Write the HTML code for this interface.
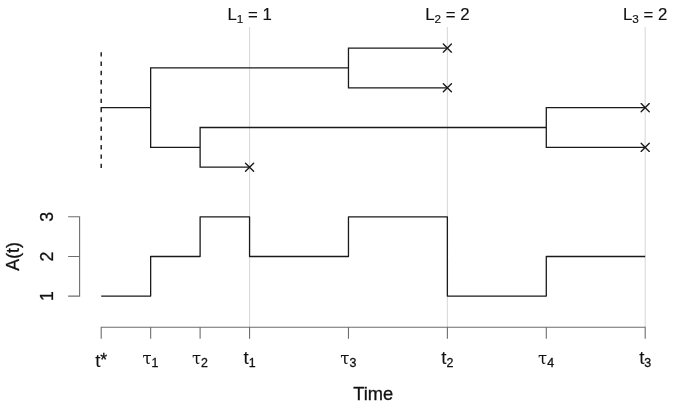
<!DOCTYPE html>
<html><head><meta charset="utf-8"><title>Tree and lineage count</title>
<style>html,body{margin:0;padding:0;background:#fff}svg{display:block}</style></head>
<body>
<svg width="677" height="407" viewBox="0 0 677 407">
<rect width="677" height="407" fill="#fff"/>
<line x1="249.56" y1="27" x2="249.56" y2="327" stroke="#dadada" stroke-width="1.1"/>
<line x1="447.38" y1="27" x2="447.38" y2="327" stroke="#dadada" stroke-width="1.1"/>
<line x1="645.2" y1="27" x2="645.2" y2="327" stroke="#dadada" stroke-width="1.1"/>
<line x1="101.2" y1="52.2" x2="101.2" y2="168.3" stroke="#1a1a1a" stroke-width="1.45" stroke-dasharray="4.4 4.89"/>
<path d="M101.2 107.65L150.65 107.65M150.65 67.95L150.65 147.35M150.65 67.95L348.47 67.95M348.47 48.1L348.47 87.8M348.47 48.1L447.38 48.1M348.47 87.8L447.38 87.8M150.65 147.35L200.11 147.35M200.11 127.5L200.11 167.2M200.11 167.2L249.56 167.2M200.11 127.5L546.29 127.5M546.29 107.65L546.29 147.35M546.29 107.65L645.2 107.65M546.29 147.35L645.2 147.35" fill="none" stroke="#1a1a1a" stroke-width="1.3" stroke-linecap="square"/>
<path d="M443.33 44.05L451.43 52.15M443.33 52.15L451.43 44.05M443.33 83.75L451.43 91.85M443.33 91.85L451.43 83.75M245.51 163.15L253.61 171.25M245.51 171.25L253.61 163.15M641.15 103.60L649.25 111.70M641.15 111.70L649.25 103.60M641.15 143.30L649.25 151.40M641.15 151.40L649.25 143.30" fill="none" stroke="#1a1a1a" stroke-width="1.35" stroke-linecap="round"/>
<polyline points="101.2,296.1 150.65,296.1 150.65,256.5 200.11,256.5 200.11,216.8 249.56,216.8 249.56,256.5 348.47,256.5 348.47,216.8 447.38,216.8 447.38,296.1 546.29,296.1 546.29,256.5 645.2,256.5" fill="none" stroke="#1a1a1a" stroke-width="1.3" stroke-linejoin="round"/>
<path d="M101.2 327.3L645.2 327.3M101.2 327.3L101.2 338.2M150.65 327.3L150.65 338.2M200.11 327.3L200.11 338.2M249.56 327.3L249.56 338.2M348.47 327.3L348.47 338.2M447.38 327.3L447.38 338.2M546.29 327.3L546.29 338.2M645.2 327.3L645.2 338.2M79.6 216.8L79.6 296.1M79.6 296.1L68.7 296.1M79.6 256.5L68.7 256.5M79.6 216.8L68.7 216.8" fill="none" stroke="#6e6e6e" stroke-width="1.1" stroke-linecap="square"/>
<g stroke="#111" stroke-width="0.3" font-family="'Liberation Sans', sans-serif" fill="#111" font-size="17.7px">
<text transform="translate(249.56 19.6)" text-anchor="middle" font-size="16.8px" stroke-width="0.15">L<tspan font-size="11.76px" dy="3">1</tspan><tspan dy="-3"> = 1</tspan></text>
<text transform="translate(447.38 19.6)" text-anchor="middle" font-size="16.8px" stroke-width="0.15">L<tspan font-size="11.76px" dy="3">2</tspan><tspan dy="-3"> = 2</tspan></text>
<text transform="translate(645.2 19.6)" text-anchor="middle" font-size="16.8px" stroke-width="0.15">L<tspan font-size="11.76px" dy="3">3</tspan><tspan dy="-3"> = 2</tspan></text>
<text transform="translate(101.2 366.8)" text-anchor="middle"><tspan font-size="18.7px" stroke-width="0.12">t</tspan><tspan dy="-0.9">*</tspan></text>
<text transform="translate(150.45 363.9)" text-anchor="middle"><tspan stroke="none" font-size="16.5px" font-family="'DejaVu Serif', 'Liberation Serif', serif">τ</tspan><tspan font-size="12.39px" dy="3">1</tspan></text>
<text transform="translate(199.91 363.9)" text-anchor="middle"><tspan stroke="none" font-size="16.5px" font-family="'DejaVu Serif', 'Liberation Serif', serif">τ</tspan><tspan font-size="12.39px" dy="3">2</tspan></text>
<text transform="translate(249.56 364.2)" text-anchor="middle"><tspan font-size="18.7px" stroke-width="0.12">t</tspan><tspan font-size="12.39px" dy="3">1</tspan></text>
<text transform="translate(348.27 363.9)" text-anchor="middle"><tspan stroke="none" font-size="16.5px" font-family="'DejaVu Serif', 'Liberation Serif', serif">τ</tspan><tspan font-size="12.39px" dy="3">3</tspan></text>
<text transform="translate(447.38 364.2)" text-anchor="middle"><tspan font-size="18.7px" stroke-width="0.12">t</tspan><tspan font-size="12.39px" dy="3">2</tspan></text>
<text transform="translate(546.09 363.9)" text-anchor="middle"><tspan stroke="none" font-size="16.5px" font-family="'DejaVu Serif', 'Liberation Serif', serif">τ</tspan><tspan font-size="12.39px" dy="3">4</tspan></text>
<text transform="translate(645.2 364.2)" text-anchor="middle"><tspan font-size="18.7px" stroke-width="0.12">t</tspan><tspan font-size="12.39px" dy="3">3</tspan></text>
<text transform="translate(373.3 400.4)" text-anchor="middle" textLength="40" lengthAdjust="spacingAndGlyphs">Time</text>
<text transform="translate(53.1 296.1) rotate(-90)" text-anchor="middle">1</text>
<text transform="translate(53.1 256.5) rotate(-90)" text-anchor="middle">2</text>
<text transform="translate(53.1 216.8) rotate(-90)" text-anchor="middle">3</text>
<text transform="translate(19.2 256.4) rotate(-90)" text-anchor="middle">A(t)</text>
</g></svg>
</body></html>
